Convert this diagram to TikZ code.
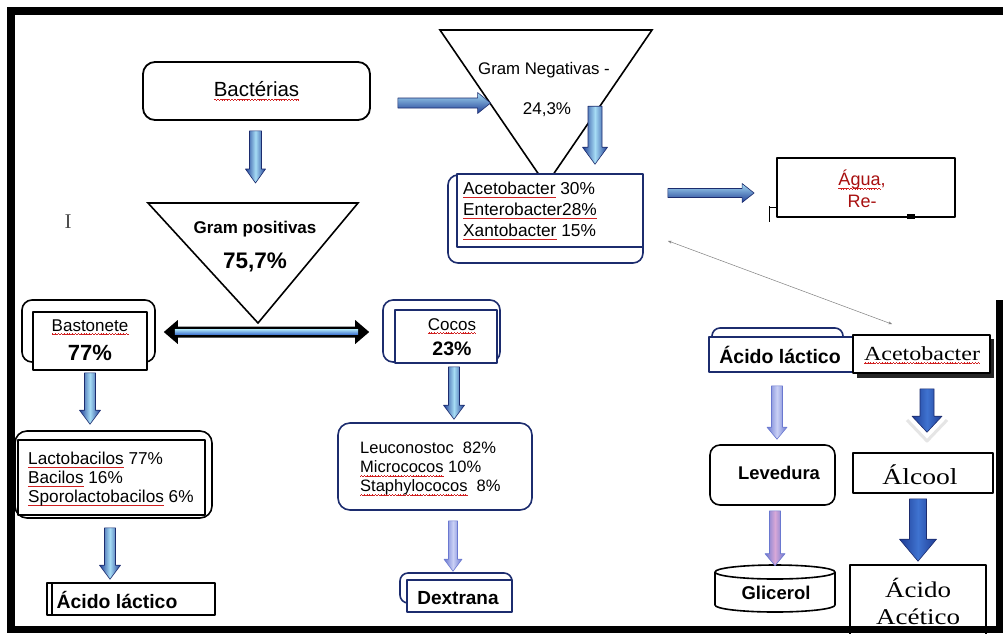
\documentclass[tikz,border=0pt]{standalone}
\usepackage{fontspec}
\setmainfont{Liberation Sans}
\newfontfamily\bookfont[FakeStretch=1.2]{Liberation Serif}
\newfontfamily\cursorfont{Liberation Serif}
\usetikzlibrary{calc,arrows.meta}
\definecolor{navy}{HTML}{1C2C6E}
\definecolor{abdark}{HTML}{1E3C94}
\definecolor{abmid}{HTML}{3F73D0}
\definecolor{ablight}{HTML}{A6DCF5}
\definecolor{lavmid}{HTML}{C9D0F5}
\definecolor{lavedge}{HTML}{6A78D0}
\definecolor{pinkmid}{HTML}{D8A8D8}
\definecolor{wavered}{HTML}{D02020}
\definecolor{darkred}{HTML}{A81010}
\newcommand\wv{\rule[-3.2pt]{0.7pt}{0.6pt}\rule[-2.8pt]{0.7pt}{0.6pt}\rule[-3.2pt]{0.7pt}{0.6pt}\rule[-3.6pt]{0.7pt}{0.6pt}}
\newcommand\spell[1]{\setbox0=\hbox{#1}\rlap{\hbox to \wd0{\color{wavered}\xleaders\hbox{\wv}\hfill}}\box0\relax}
\newcommand\fsz[2]{\fontsize{#1}{#2}\selectfont}
% vertical block arrow: start, end, shaft half width, head half width, head length, style
\newcommand\varr[6]{%
  \path[#6] let \p1=#1, \p2=#2 in
   (\x1-#3,\y1) -- (\x1+#3,\y1) -- (\x1+#3,\y2+#5) -- (\x1+#4,\y2+#5) -- (\x1,\y2)
   -- (\x1-#4,\y2+#5) -- (\x1-#3,\y2+#5) -- cycle;}
% horizontal block arrow (to the right)
\newcommand\harr[6]{%
  \path[#6] let \p1=#1, \p2=#2 in
   (\x1,\y1+#3) -- (\x2-#5,\y1+#3) -- (\x2-#5,\y1+#4) -- (\x2,\y1)
   -- (\x2-#5,\y1-#4) -- (\x2-#5,\y1-#3) -- (\x1,\y1-#3) -- cycle;}
% double-headed horizontal arrow
\newcommand\dharr[2]{%
  \path[fill=black] let \p1=#1, \p2=#2 in
   (\x1,\y1) -- (\x1+14pt,\y1+12pt) -- (\x1+14pt,\y1+5.5pt) -- (\x2-14pt,\y1+5.5pt)
   -- (\x2-14pt,\y1+12pt) -- (\x2,\y1) -- (\x2-14pt,\y1-12pt) -- (\x2-14pt,\y1-5.5pt)
   -- (\x1+14pt,\y1-5.5pt) -- (\x1+14pt,\y1-12pt) -- cycle;
  \path[top color=ablight, bottom color=abmid] let \p1=#1, \p2=#2 in
   (\x1+11pt,\y1+2.5pt) rectangle (\x2-11pt,\y1-2.5pt);}
\begin{document}
\begin{tikzpicture}[x=1pt,y=-1pt, line join=round,
  bxr/.style={draw=black, line width=1.6pt, rounded corners=10pt, inner sep=0pt},
  bxs/.style={draw=black, line width=1.6pt, fill=white, inner sep=0pt},
  vblue/.style={left color=abdark, right color=abdark, middle color=ablight, draw=navy, line width=0.6pt},
  hblue/.style={top color=ablight, bottom color=abdark, draw=navy, line width=0.6pt},
  vdark/.style={left color=abdark, right color=abdark, middle color=abmid, draw=navy, line width=0.6pt},
  vlav/.style={left color=lavedge, right color=lavedge, middle color=lavmid, draw=lavedge, line width=0.6pt},
  vpink/.style={left color=lavedge, right color=lavedge, middle color=pinkmid, draw=lavedge, line width=0.6pt},
  thinline/.style={draw=gray, line width=0.5pt, {Stealth[length=4pt,width=3pt]}-{Stealth[length=4pt,width=3pt]}},
  tri/.style={draw=black, line width=1.6pt, line join=miter}]
\useasboundingbox (0,0) rectangle (1003,633);
\fill[white] (0,0) rectangle (1003,633);

% ---------- Bacterias ----------
\node[draw, line width=1.8pt, rounded corners=12pt, minimum width=227pt, minimum height=58pt,
      inner sep=0pt, font={\fsz{20.5}{24}}] (bact) at (256.5,91) {\spell{Bactérias}};

% ---------- Gram negativas ----------
\coordinate (gnA) at (440,30);
\coordinate (gnB) at (652,30);
\coordinate (gnC) at (546,185);
\draw[tri] (gnA) -- (gnB) -- (gnC) -- cycle;
\node[font={\fsz{16.8}{19}}] (gneg) at (544,70) {Gram Negativas -};
\node[font={\fsz{17}{20}}] (gnegp) at (547,110) {24,3\%};
\coordinate (gnL) at ($(gnA)!0.477!(gnC)$);
\harr{($(bact.east)+(27,12)$)}{(gnL)}{5pt}{10.5pt}{13pt}{hblue}

% ---------- Acetobacter list ----------
\node[bxr, draw=navy, minimum width=195pt, minimum height=88pt] (acetoO) at (545.5,219) {};
\node[bxs, draw=navy, minimum width=186pt, minimum height=73pt] (aceto) at (550,210.5) {};
\node[anchor=west, align=left, inner sep=0pt, font={\fsz{17.3}{21}}] (acetoT) at (463,211)
  {\spell{Acetobacter} 30\%\\\spell{Enterobacter28\%}\\\spell{Xantobacter} 15\%};
\varr{($(aceto.north)+(45,-67)$)}{($(aceto.north)+(45,-9)$)}{7pt}{12.5pt}{17pt}{vblue}

% ---------- Agua ----------
\node[bxs, line width=1.8pt, minimum width=178pt, minimum height=59pt] (agua) at (866,187.5) {};
\node[align=center, text=darkred, font={\fsz{18}{22}}] (aguaT) at (862,189) {\spell{Água},\\Re-};
\draw[line width=1pt] (769,206) -- (769,222);
\draw[line width=1pt] (769,207) -- (777,207);
\fill[black] (907,214) rectangle (915,219);
\harr{($(acetoO.east)+(24,-26)$)}{($(agua.west)+(-22,0)$)}{4.5pt}{9.5pt}{12pt}{hblue}

% ---------- Gram positivas ----------
\coordinate (gpA) at (148,203);
\coordinate (gpB) at (358,203);
\coordinate (gpC) at (258,323);
\draw[tri] (gpA) -- (gpB) -- (gpC) -- cycle;
\node[font={\bfseries\fsz{17}{20}}] (gpos) at (255,229) {Gram positivas};
\node[font={\bfseries\fsz{22.5}{26}}] (gposp) at (255,262) {75,7\%};
\varr{($(bact.south)+(-1,10)$)}{($(gpA)!0.5!(gpB)+(0,-20)$)}{6pt}{10pt}{14pt}{vblue}

% cursor
\node[font={\cursorfont\fsz{21}{24}}, text=gray!60!black] (cursor) at (68,222) {I};

% ---------- Bastonete ----------
\node[bxr, minimum width=133pt, minimum height=62pt] (bastO) at (88.5,331) {};
\node[bxs, minimum width=114pt, minimum height=58pt] (bast) at (90,341) {};
\node[font={\fsz{17}{20}}] (bastT) at (90,327) {\spell{Bastonete}};
\node[font={\bfseries\fsz{22}{26}}] (bastP) at (90,353) {77\%};

% ---------- Cocos ----------
\node[bxr, draw=navy, minimum width=117pt, minimum height=62pt] (cocO) at (441.5,331) {};
\node[bxs, draw=navy, minimum width=102pt, minimum height=53pt] (coc) at (446,336.5) {};
\node[font={\fsz{17}{20}}] (cocT) at (452,326) {\spell{Cocos}};
\node[font={\bfseries\fsz{19.5}{23}}] (cocP) at (452,349) {23\%};

\dharr{($(bastO.east)+(8,1)$)}{($(cocO.west)+(-13,1)$)}

% ---------- Lactobacilos ----------
\node[bxr, minimum width=197pt, minimum height=87pt, rounded corners=12pt] (lactoO) at (113.5,474.5) {};
\node[bxs, minimum width=187pt, minimum height=75pt] (lacto) at (111.5,477.5) {};
\node[anchor=west, align=left, inner sep=0pt, font={\fsz{17.2}{19}}] (lactoT) at (28,479)
  {\spell{Lactobacilos} 77\%\\\spell{Bacilos} 16\%\\\spell{Sporolactobacilos} 6\%};
\varr{($(bast.south)+(0,2)$)}{($(lactoO.north)+(0,-6)$)}{5.5pt}{10.5pt}{14pt}{vblue}

% ---------- Acido lactico (left) ----------
\node[bxs, minimum width=168pt, minimum height=32pt] (acl1) at (131,599) {};
\draw[line width=1.2pt] (52,583) -- (52,615);
\node[font={\bfseries\fsz{19.4}{23}}] (acl1T) at (117,600) {Ácido láctico};
\varr{($(lacto.south)+(-1.5,12)$)}{($(acl1.north)+(0,-3)$)}{5.5pt}{10.5pt}{14pt}{vblue}

% ---------- Leuconostoc ----------
\node[bxr, draw=navy, minimum width=194pt, minimum height=87pt, rounded corners=12pt] (leuco) at (435,466.5) {};
\node[anchor=west, align=left, inner sep=0pt, font={\fsz{16.5}{19}}] (leucoT) at (360,469)
  {Leuconostoc\ \ 82\%\\\spell{Micrococos} 10\%\\\spell{Staphylococos}\ \ 8\%};
\varr{($(coc.south)+(8,3)$)}{($(leuco.north)+(0,-3)$)}{5.5pt}{10.5pt}{14pt}{vblue}

% ---------- Dextrana ----------
\node[bxr, draw=navy, rounded corners=8pt, minimum width=112pt, minimum height=30pt] (dexO) at (456,588) {};
\node[bxs, draw=navy, minimum width=105pt, minimum height=32pt] (dex) at (459.5,596) {};
\node[font={\bfseries\fsz{19}{23}}] (dexT) at (458,598) {Dextrana};
\varr{($(leuco.south)+(18,10)$)}{($(dexO.north)+(0,-1)$)}{4.5pt}{9pt}{12pt}{vlav}

% ---------- Right column ----------
\node[bxr, draw=navy, rounded corners=8pt, minimum width=131pt, minimum height=22pt] (acltab) at (777.5,339) {};
\node[bxs, draw=navy, line width=1.8pt, minimum width=144pt, minimum height=35pt] (acl2) at (781,354.5) {};
\node[font={\bfseries\fsz{19.5}{23}}] (acl2T) at (780,355) {Ácido láctico};

\fill[black!85] (857,339) rectangle (994,378);
\node[bxs, minimum width=137pt, minimum height=38pt] (acb) at (921.5,354) {};
\node[font={\bookfont\fsz{20}{24}}] (acbT) at (922,355) {\spell{Acetobacter}};

\draw[thinline] (acetoO.south east) ++(24,-23) coordinate (thinA) -- ($(acb.north west)+(40,-10)$) coordinate (thinB);

% Levedura
\node[bxr, minimum width=125pt, minimum height=60pt] (lev) at (772.5,475) {};
\node[font={\bfseries\fsz{18.4}{22}}] (levT) at (779,473) {Levedura};
\varr{($(acl2.south)+(-4,13)$)}{($(lev.north)+(0,-5)$)}{5.5pt}{10pt}{12pt}{vlav}

% Alcool
\node[bxs, minimum width=140pt, minimum height=40pt] (alc) at (923,473) {};
\node[font={\bookfont\fsz{23}{27}}] (alcT) at (920,475) {Álcool};
\draw[gray!20, line width=3pt] (907,420) -- (927,441) -- (947,420);
\varr{($(acb.south)+(5.5,15)$)}{($(alc.north)+(0,-20)$)}{7pt}{15pt}{16pt}{vdark}

% Glicerol
\node[font={\bfseries\fsz{18.5}{22}}] (glic) at (776,593) {Glicerol};
\draw[line width=1.6pt] (775,572) ellipse [x radius=60, y radius=7];
\draw[line width=1.6pt] (715,572) -- (715,605) arc [start angle=180, end angle=0, x radius=60, y radius=7] -- (835,572);
\varr{($(lev.south)+(2.5,5)$)}{($(glic.north)+(0,-17)$)}{5.5pt}{10pt}{12pt}{vpink}

% Acido Acetico
\node[bxs, minimum width=136pt, minimum height=70pt] (acac) at (918,600) {};
\node[align=center, font={\bookfont\fsz{22.5}{27}}] (acacT) at (918,601) {Ácido\\Acético};
\varr{($(alc.south)+(-5,5)$)}{($(acac.north)+(0,-3)$)}{8.5pt}{18.5pt}{22pt}{vdark}

% ---------- frame ----------
\fill[black] (7,7) rectangle (1003,15);
\fill[black] (7,7) rectangle (15,633);
\fill[black] (7,626) rectangle (1003,633);
\fill[black] (996,300) rectangle (1003,633);
\end{tikzpicture}
\end{document}
